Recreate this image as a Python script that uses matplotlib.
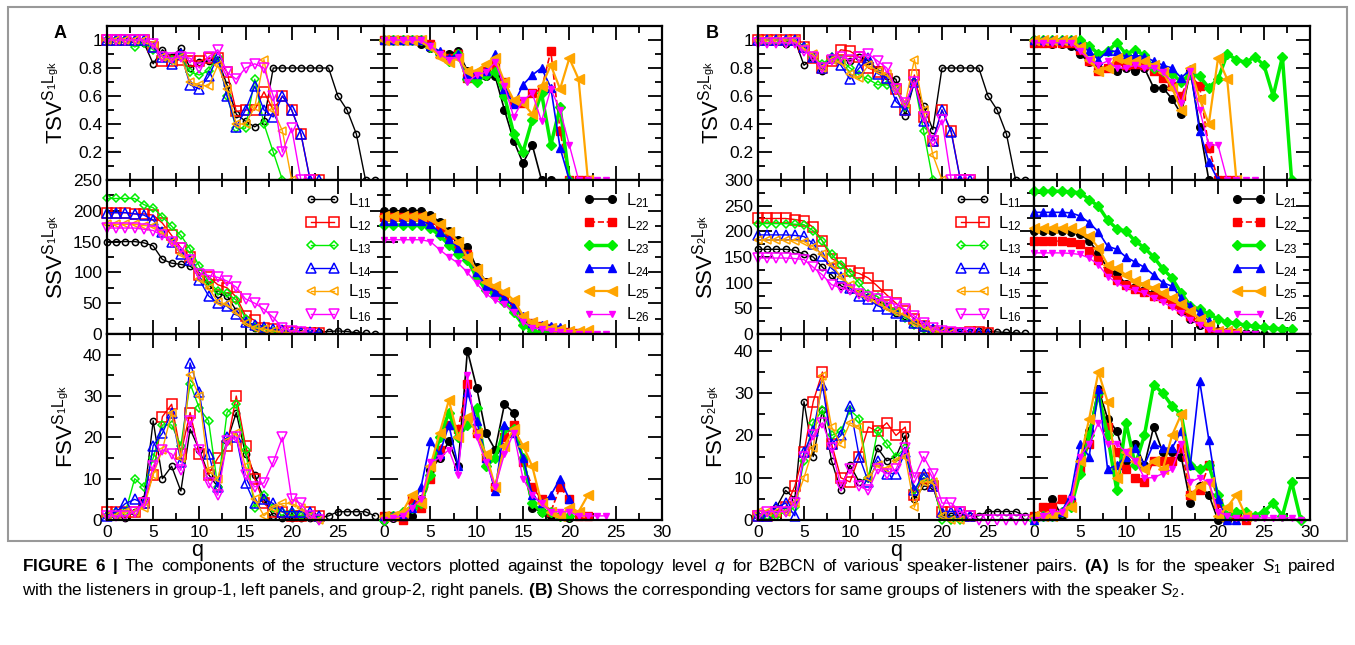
import numpy as np
import matplotlib.pyplot as plt
from matplotlib.ticker import MultipleLocator, FixedLocator

plt.rcParams['font.family'] = ['Liberation Sans', 'DejaVu Sans']
plt.rcParams['mathtext.fontset'] = 'custom'
plt.rcParams['mathtext.rm'] = 'Liberation Sans'
plt.rcParams['mathtext.it'] = 'Liberation Sans:italic'
plt.rcParams['mathtext.bf'] = 'Liberation Sans:bold'

# ---- data: one list per listener, index = topology level q ----
labels_1 = ['11', '12', '13', '14', '15', '16']
labels_2 = ['21', '22', '23', '24', '25', '26']

# panel A (speaker S1)
tsv_a1 = [
    [1, 1, 1, 1, 0.98, 0.83, 0.93, 0.88, 0.94, 0.8, 0.84, 0.85, 0.86, 0.68, 0.47, 0.42, 0.38, 0.42, 0.8, 0.8, 0.8, 0.8, 0.8, 0.8, 0.8, 0.6, 0.5, 0.33, 0, 0],
    [1, 1, 1, 1, 1, 0.95, 0.85, 0.85, 0.86, 0.85, 0.85, 0.87, 0.87, 0.77, 0.49, 0.5, 0.5, 0.63, 0.5, 0.6, 0.5, 0.33, 0, 0],
    [1, 1, 1, 0.95, 0.98, 0.93, 0.88, 0.86, 0.88, 0.77, 0.75, 0.78, 0.88, 0.6, 0.37, 0.37, 0.72, 0.4, 0.2, 0],
    [1, 1, 1, 1, 1, 0.95, 0.88, 0.83, 0.9, 0.68, 0.65, 0.74, 0.88, 0.6, 0.38, 0.5, 0.67, 0.5, 0.45, 0.6, 0.5, 0.33, 0, 0],
    [1, 1, 1, 1, 1, 0.97, 0.88, 0.85, 0.88, 0.7, 0.68, 0.67, 0.82, 0.65, 0.4, 0.4, 0.52, 0.86, 0.5, 0.35, 0],
    [1, 1, 1, 1, 1, 0.97, 0.88, 0.87, 0.88, 0.87, 0.8, 0.88, 0.93, 0.77, 0.72, 0.8, 0.83, 0.8, 0.6, 0.2, 0.37, 0, 0],
]
tsv_a2 = [
    [1, 1, 1, 1, 0.97, 0.94, 0.9, 0.9, 0.92, 0.78, 0.75, 0.74, 0.74, 0.5, 0.28, 0.12, 0.25, 0, 0],
    [1, 1, 1, 1, 1, 0.97, 0.9, 0.87, 0.9, 0.73, 0.75, 0.78, 0.82, 0.7, 0.55, 0.55, 0.62, 0.65, 0.92, 0.35, 0, 0, 0],
    [1, 1, 1, 1, 1, 0.95, 0.9, 0.85, 0.9, 0.72, 0.7, 0.75, 0.77, 0.6, 0.33, 0.2, 0.43, 0.62, 0.25, 0.52, 0],
    [1, 1, 1, 1, 1, 0.96, 0.92, 0.87, 0.9, 0.76, 0.76, 0.78, 0.9, 0.65, 0.54, 0.68, 0.75, 0.8, 0.66, 0.23, 0],
    [1, 1, 1, 1, 1, 0.95, 0.88, 0.84, 0.87, 0.78, 0.78, 0.83, 0.87, 0.7, 0.57, 0.55, 0.47, 0.67, 0.82, 0.65, 0.87, 0.72, 0],
    [1, 1, 1, 1, 1, 0.96, 0.9, 0.86, 0.88, 0.7, 0.75, 0.77, 0.84, 0.67, 0.45, 0.57, 0.62, 0.42, 0.65, 0.5, 0.25, 0, 0, 0, 0],
]
ssv_a1 = [
    [150, 150, 150, 150, 148, 143, 121, 115, 113, 110, 100, 80, 65, 62, 38, 20, 10, 8, 5, 3, 2, 2, 3, 3, 4, 5, 4, 2, 1, 0],
    [197, 197, 197, 195, 195, 193, 180, 160, 140, 125, 95, 93, 80, 75, 60, 30, 22, 10, 8, 5, 3, 2, 2, 1],
    [220, 220, 220, 220, 210, 205, 190, 175, 160, 138, 110, 84, 70, 66, 55, 25, 12, 8, 3, 0],
    [197, 197, 197, 195, 193, 185, 165, 150, 130, 120, 88, 62, 50, 45, 32, 20, 15, 12, 8, 6, 4, 3, 3, 2],
    [178, 178, 178, 178, 176, 175, 165, 150, 130, 120, 90, 75, 52, 48, 35, 18, 10, 8, 5, 3, 1, 0],
    [172, 172, 172, 172, 170, 168, 160, 150, 140, 120, 98, 95, 92, 86, 76, 57, 50, 40, 27, 10, 5, 3, 0],
]
ssv_a2 = [
    [200, 200, 200, 200, 200, 193, 182, 167, 152, 141, 108, 85, 72, 60, 45, 25, 12, 8, 5, 3, 1],
    [190, 190, 190, 190, 190, 185, 172, 160, 145, 130, 100, 82, 70, 58, 45, 27, 18, 13, 10, 6, 3, 1, 0],
    [177, 177, 177, 177, 177, 172, 160, 145, 130, 120, 92, 72, 62, 52, 35, 15, 5, 2, 1, 0, 0],
    [184, 184, 184, 184, 184, 178, 165, 155, 140, 128, 100, 78, 68, 58, 45, 30, 18, 15, 13, 12, 3, 1],
    [192, 192, 192, 192, 192, 188, 178, 165, 150, 125, 105, 85, 78, 68, 55, 30, 20, 15, 10, 8, 5, 5, 6],
    [153, 153, 153, 153, 153, 150, 137, 125, 115, 100, 82, 65, 55, 48, 35, 20, 10, 8, 5, 3, 1, 0, 0, 0, 0],
]
fsv_a1 = [
    [1, 1, 0.5, 2, 5, 24, 10, 13, 7, 22, 17, 11, 8, 19, 26, 16, 11, 5, 1, 0.5, 0.5, 0.5, 0.5, 0.5, 1, 2, 2, 2, 2, 1],
    [2, 2, 2, 2, 4, 11, 25, 28, 16, 26, 16, 11, 15, 18, 30, 18, 10, 4, 2, 2, 1, 1, 2, 1],
    [1, 2, 2, 10, 8, 15, 23, 23, 18, 33, 27, 24, 8, 26, 28, 17, 3, 6, 3, 2, 2, 1, 1, 0],
    [1, 2, 4, 5, 4, 18, 21, 26, 14, 38, 31, 16, 8, 20, 20, 9, 4, 5, 4, 2, 2, 2, 2, 1],
    [1, 1, 2, 2, 3, 11, 17, 26, 15, 35, 30, 12, 10, 19, 21, 13, 5, 1, 3, 4, 4, 3, 1, 0],
    [1, 1, 1, 2, 4, 13, 17, 16, 12, 24, 17, 9, 6, 19, 20, 11, 8, 9, 14, 20, 5, 4, 1, 0],
]
fsv_a2 = [
    [0, 0.5, 0.5, 1, 5, 12, 15, 19, 13, 41, 32, 21, 17, 28, 26, 14, 3, 2, 1, 1, 0.5],
    [1, 1, 0, 5, 3, 10, 17, 23, 22, 33, 21, 15, 8, 20, 23, 14, 8, 5, 2, 8, 5, 1, 1],
    [0, 1, 2, 3, 4, 11, 20, 26, 20, 23, 27, 13, 15, 22, 22, 15, 4, 2, 2, 1, 1],
    [1, 1, 1, 3, 8, 19, 16, 23, 13, 31, 24, 15, 7, 23, 21, 15, 6, 4, 6, 10, 5],
    [1, 1, 2, 6, 4, 13, 21, 29, 20, 25, 21, 16, 8, 18, 22, 18, 13, 4, 2, 1, 3, 2, 6],
    [0, 0.5, 1, 3, 5, 14, 15, 17, 11, 35, 20, 14, 8, 16, 21, 10, 6, 4, 2, 2, 2, 1, 1, 1, 1],
]

# panel B (speaker S2)
tsv_b1 = [
    [1, 1, 1, 0.97, 1, 0.82, 0.87, 0.78, 0.87, 0.86, 0.85, 0.88, 0.85, 0.79, 0.74, 0.72, 0.46, 0.7, 0.53, 0.36, 0.8, 0.8, 0.8, 0.8, 0.8, 0.6, 0.5, 0.33, 0, 0],
    [1, 1, 1, 1, 1, 0.95, 0.87, 0.8, 0.85, 0.93, 0.92, 0.88, 0.8, 0.77, 0.72, 0.65, 0.5, 0.75, 0.45, 0.28, 0.5, 0.35, 0, 0],
    [1, 1, 1, 1, 1, 0.95, 0.88, 0.83, 0.88, 0.86, 0.8, 0.75, 0.72, 0.68, 0.68, 0.65, 0.52, 0.7, 0.35, 0],
    [1, 1, 1, 1, 1, 0.95, 0.88, 0.8, 0.87, 0.82, 0.72, 0.8, 0.87, 0.76, 0.73, 0.56, 0.5, 0.7, 0.42, 0.28, 0.5, 0.34, 0, 0],
    [1, 1, 1, 1, 1, 0.94, 0.9, 0.8, 0.86, 0.84, 0.76, 0.73, 0.82, 0.78, 0.76, 0.65, 0.55, 0.86, 0.5, 0.18, 0],
    [0.98, 0.98, 0.98, 0.98, 0.98, 0.92, 0.88, 0.8, 0.86, 0.88, 0.86, 0.88, 0.9, 0.85, 0.8, 0.65, 0.55, 0.7, 0.45, 0.28, 0.43, 0, 0, 0],
]
tsv_b2 = [
    [1, 0.98, 0.97, 0.97, 0.96, 0.9, 0.84, 0.8, 0.8, 0.78, 0.8, 0.78, 0.8, 0.66, 0.66, 0.58, 0.47, 0.78, 0.38, 0],
    [0.98, 0.98, 0.98, 0.98, 0.98, 0.93, 0.85, 0.78, 0.8, 0.85, 0.82, 0.83, 0.82, 0.78, 0.73, 0.67, 0.6, 0.75, 0.67, 0.23, 0, 0, 0],
    [1, 1, 1, 1, 1, 1, 0.96, 0.9, 0.92, 0.98, 0.9, 0.93, 0.89, 0.8, 0.78, 0.76, 0.7, 0.76, 0.74, 0.66, 0.72, 0.9, 0.86, 0.84, 0.88, 0.82, 0.6, 0.88, 0],
    [1, 1, 1, 1, 1, 0.96, 0.92, 0.86, 0.92, 0.92, 0.88, 0.89, 0.88, 0.85, 0.82, 0.8, 0.73, 0.79, 0.35, 0.13, 0],
    [1, 1, 1, 1, 1, 0.95, 0.86, 0.78, 0.8, 0.87, 0.85, 0.85, 0.85, 0.82, 0.77, 0.66, 0.5, 0.8, 0.58, 0.4, 0.87, 0.72, 0],
    [0.98, 0.98, 0.98, 0.98, 0.98, 0.92, 0.86, 0.82, 0.85, 0.8, 0.8, 0.82, 0.8, 0.8, 0.77, 0.7, 0.55, 0.78, 0.5, 0.25, 0.25, 0, 0, 0, 0],
]
ssv_b1 = [
    [165, 165, 165, 165, 163, 155, 150, 130, 115, 94, 85, 80, 72, 65, 55, 40, 35, 20, 15, 10, 5, 5, 5, 4, 5, 5, 4, 3, 2, 1],
    [225, 225, 225, 225, 223, 220, 208, 181, 147, 138, 122, 118, 109, 93, 76, 60, 45, 30, 15, 5, 2, 2, 2, 3, 3, 2],
    [215, 215, 215, 215, 214, 213, 201, 181, 155, 135, 119, 99, 78, 73, 55, 45, 32, 18, 10, 3, 2],
    [193, 193, 193, 193, 192, 190, 176, 151, 128, 112, 90, 75, 68, 55, 48, 40, 35, 22, 15, 10, 3, 2, 2, 1, 1, 0],
    [183, 183, 183, 183, 182, 180, 170, 155, 135, 112, 95, 80, 70, 62, 50, 42, 38, 22, 15, 8, 3, 1],
    [148, 148, 148, 148, 147, 145, 130, 115, 96, 90, 85, 78, 72, 68, 62, 58, 48, 35, 22, 12, 5, 3, 2, 1],
]
ssv_b2 = [
    [200, 200, 200, 200, 199, 195, 181, 158, 127, 118, 97, 92, 85, 80, 72, 60, 45, 30, 18, 10, 5, 3, 2, 1, 1, 0],
    [181, 181, 181, 181, 180, 175, 162, 145, 120, 105, 95, 88, 82, 75, 70, 58, 48, 35, 25, 10, 3, 2, 1],
    [278, 278, 278, 278, 277, 275, 262, 249, 222, 205, 200, 181, 168, 150, 127, 109, 80, 55, 48, 39, 29, 23, 21, 17, 15, 13, 11, 10, 9],
    [237, 237, 237, 237, 236, 230, 217, 199, 171, 165, 150, 140, 130, 115, 100, 93, 70, 55, 42, 25, 3, 2, 1],
    [207, 207, 207, 207, 206, 200, 190, 168, 135, 128, 115, 103, 97, 90, 80, 70, 58, 45, 30, 18, 5, 5, 3],
    [158, 158, 158, 158, 157, 155, 148, 135, 112, 100, 90, 85, 80, 70, 62, 52, 40, 28, 18, 8, 2, 1, 0, 0, 0],
]
fsv_b1 = [
    [1, 1, 3, 7, 5, 28, 15, 26, 14, 7, 13, 9, 10, 17, 14, 15, 20, 5, 8, 8, 1, 1, 1, 1, 1, 2, 2, 2, 2, 1],
    [1, 1, 2, 3, 8, 16, 28, 35, 18, 10, 9, 15, 22, 21, 23, 20, 22, 6, 10, 8, 2, 2, 2, 1],
    [1, 1, 1, 2, 3, 14, 23, 26, 20, 21, 26, 24, 10, 21, 18, 15, 17, 7, 10, 9, 0, 0, 0],
    [1, 1, 3, 4, 1, 16, 21, 32, 18, 20, 27, 15, 9, 14, 11, 11, 16, 7, 11, 8, 2, 2, 2, 1],
    [2, 2, 2, 2, 4, 10, 17, 34, 22, 18, 23, 22, 10, 13, 12, 14, 15, 3, 9, 9, 1, 0, 0],
    [1, 2, 2, 2, 4, 15, 20, 23, 17, 8, 12, 8, 7, 12, 11, 12, 17, 10, 15, 11, 4, 4, 2, 1, 0, 0, 0, 0, 0, 0],
]
fsv_b2 = [
    [0, 1, 5, 1, 4, 14, 21, 31, 24, 21, 14, 18, 13, 22, 16, 16, 15, 4, 8, 6, 0, 0],
    [1, 3, 3, 5, 4, 12, 18, 30, 22, 16, 12, 10, 9, 14, 14, 14, 17, 6, 7, 13, 4, 1, 1, 0],
    [0, 1, 1, 2, 3, 11, 20, 30, 20, 7, 23, 13, 20, 32, 30, 27, 25, 13, 12, 13, 6, 1, 2, 2, 1, 2, 4, 1, 9, 0],
    [0, 1, 1, 2, 6, 18, 15, 31, 12, 13, 15, 17, 13, 18, 17, 17, 21, 13, 33, 19, 5, 0, 0],
    [1, 1, 1, 2, 3, 14, 24, 35, 28, 10, 16, 14, 12, 14, 12, 20, 25, 6, 8, 9, 1, 3, 6, 1],
    [0, 1, 2, 2, 5, 15, 18, 23, 18, 18, 16, 14, 10, 10, 11, 12, 18, 9, 10, 9, 2, 1, 0.5, 0.5, 0.5, 0.5, 0.5, 0.5, 0.5, 0],
]

caption_line1 = (r'$\mathbf{FIGURE}$ $\mathbf{6}$ $\mathbf{|}$ The components of the structure vectors '
                 r'plotted against the topology level $q$ for B2BCN of various speaker-listener pairs. '
                 r'$\mathbf{(A)}$ Is for the speaker $S_1$ paired')
caption_line2 = (r'with the listeners in group-1, left panels, and group-2, right panels. $\mathbf{(B)}$ '
                 r'Shows the corresponding vectors for same groups of listeners with the speaker $S_2$.')

# ---- styles ----
colors = ['black', '#ff0000', '#00ee00', '#0000ff', '#ffa500', '#ff00ff']
markers = ['o', 's', 'D', '^', '<', 'v']
open_ms = [4.5, 6.5, 4.5, 6.5, 5.5, 7]
filled_ms = [5.5, 5.5, 5.5, 5.5, 6.5, 4.5]
filled_lw = [1.2, 1.2, 2.5, 1.2, 1.6, 1.0]
filled_ls = ['-', '--', '-', '-', '-', '-']

W, H = 1355, 645
fig = plt.figure(figsize=(W / 100, H / 100), dpi=100)


def axes_px(x0, y0, x1, y1):
    return fig.add_axes([x0 / W, 1 - y1 / H, (x1 - x0) / W, (y1 - y0) / H])


def draw(ax, series, filled, labels):
    for i, vals in enumerate(series):
        q = np.arange(len(vals))
        lab = r'$\mathregular{L_{%s}}$' % labels[i]
        if filled:
            ax.plot(q, vals, color=colors[i], marker=markers[i], ms=filled_ms[i],
                    lw=filled_lw[i], ls=filled_ls[i], label=lab, clip_on=False)
        else:
            ax.plot(q, vals, color=colors[i], marker=markers[i], ms=open_ms[i],
                    mfc='none', mew=1.1, lw=1.0, label=lab, clip_on=False)


def style(ax, ylim, yticks, ymin, yticklabels, xlabels):
    ax.set_xlim(0, 30)
    ax.set_ylim(*ylim)
    ax.xaxis.set_major_locator(FixedLocator([0, 5, 10, 15, 20, 25, 30]))
    ax.xaxis.set_minor_locator(MultipleLocator(2.5))
    ax.yaxis.set_major_locator(FixedLocator(yticks))
    ax.yaxis.set_minor_locator(MultipleLocator(ymin))
    ax.tick_params(which='both', direction='in', top=True, right=True, labelsize=12.5)
    ax.tick_params(which='major', length=10, width=1.3)
    ax.tick_params(which='minor', length=5, width=1.3)
    for s in ax.spines.values():
        s.set_linewidth(1.6)
    ax.set_yticklabels(yticklabels if yticklabels is not None else [])
    ax.set_xticklabels(xlabels if xlabels is not None else [])


cols = {'A': [(107, 384), (384, 662)], 'B': [(758, 1034), (1034, 1310)]}
rows = [(26, 180), (180, 334), (334, 520)]
xl_left = ['0', '5', '10', '15', '20', '25', '']
xl_right = ['0', '5', '10', '15', '20', '25', '30']

panels = {
    'A': (tsv_a1, tsv_a2, ssv_a1, ssv_a2, fsv_a1, fsv_a2, 250, 45, '1', (68, 68, 77)),
    'B': (tsv_b1, tsv_b2, ssv_b1, ssv_b2, fsv_b1, fsv_b2, 300, 44, '2', (723, 718, 727)),
}

for key, (t1, t2, s1, s2, f1, f2, smax, fmax, sp, ylab_x) in panels.items():
    for c, (x0, x1) in enumerate(cols[key]):
        left = c == 0
        grp = [t1, s1, f1] if left else [t2, s2, f2]
        labs = labels_1 if left else labels_2
        ax_t = axes_px(x0, rows[0][0], x1, rows[0][1])
        ax_s = axes_px(x0, rows[1][0], x1, rows[1][1])
        ax_f = axes_px(x0, rows[2][0], x1, rows[2][1])
        draw(ax_t, grp[0], not left, labs)
        draw(ax_s, grp[1], not left, labs)
        draw(ax_f, grp[2], not left, labs)
        style(ax_t, (0, 1.1), [0, 0.2, 0.4, 0.6, 0.8, 1.0], 0.1,
              ['', '0.2', '0.4', '0.6', '0.8', '1'] if left else None, None)
        sticks = list(range(0, smax + 1, 50))
        style(ax_s, (0, smax), sticks, 25,
              [str(v) for v in sticks] if left else None, None)
        style(ax_f, (0, fmax), [0, 10, 20, 30, 40], 5,
              ['0', '10', '20', '30', '40'] if left else None,
              xl_left if left else xl_right)
        if left:
            for ax, name, xp in zip([ax_t, ax_s, ax_f], ['TSV', 'SSV', 'FSV'], ylab_x):
                ax.set_ylabel(r'%s$^{\mathrm{S_%sL_{gk}}}$' % (name, sp), fontsize=16)
                ax.yaxis.set_label_coords((xp - x0) / (x1 - x0), 0.5)
        ax_s.legend(loc='upper right', bbox_to_anchor=(0.98, 0.97), frameon=False,
                    fontsize=12, handlelength=2.0, numpoints=2, labelspacing=0.25,
                    handletextpad=0.5, borderaxespad=0)

fig.text(60 / W, 1 - 33 / H, 'A', fontsize=13, fontweight='bold', ha='center', va='center')
fig.text(712 / W, 1 - 33 / H, 'B', fontsize=13, fontweight='bold', ha='center', va='center')
fig.text(197 / W, 1 - 556 / H, 'q', fontsize=15.5, ha='center', va='baseline')
fig.text(896 / W, 1 - 556 / H, 'q', fontsize=15.5, ha='center', va='baseline')

frame = plt.Rectangle((8 / W, 1 - 541 / H), (1347 - 8) / W, (541 - 7) / H,
                      transform=fig.transFigure, fill=False, ec='#999999', lw=1.5)
fig.add_artist(frame)

# caption: first line justified to the full width, second line left aligned
cap_size = 12.35
fig.canvas.draw()
renderer = fig.canvas.get_renderer()
words = caption_line1.split(' ')
word_texts = [fig.text(0, 1 - 571 / H, w, fontsize=cap_size, ha='left', va='baseline') for w in words]
widths = [t.get_window_extent(renderer).width for t in word_texts]
x_start, x_end = 22, 1336
gap = (x_end - x_start - sum(widths)) / (len(words) - 1)
xpos = x_start
for t, w in zip(word_texts, widths):
    t.set_x(xpos / W)
    xpos += w + gap
fig.text(22 / W, 1 - 595 / H, caption_line2, fontsize=cap_size, ha='left', va='baseline')

fig.savefig('out.png', dpi=100)
